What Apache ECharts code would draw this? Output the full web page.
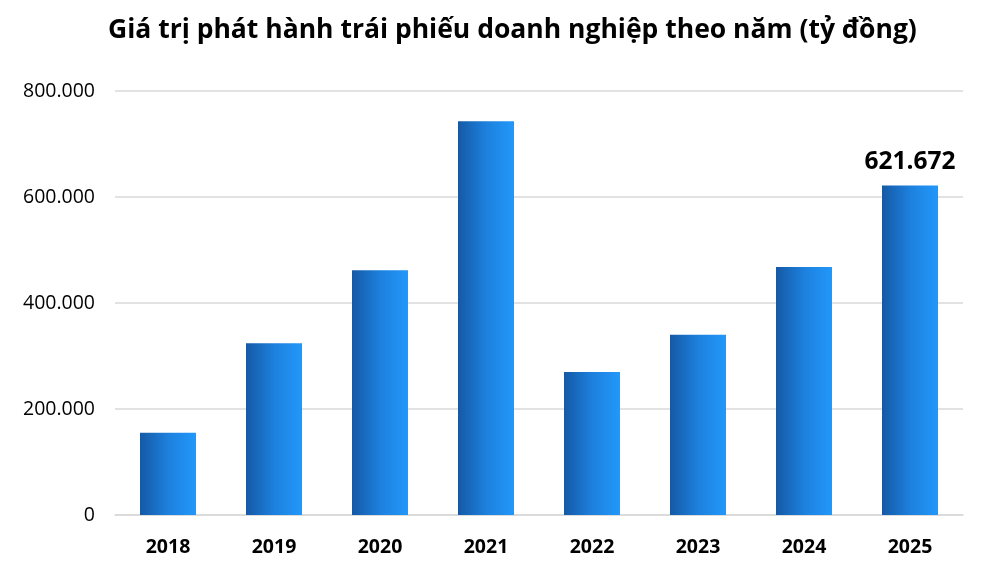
<!DOCTYPE html>
<html><head><meta charset="utf-8">
<script src="https://cdn.jsdelivr.net/npm/echarts@6/dist/echarts.min.js"></script>
<style>html,body{margin:0;padding:0;background:#fff}#c{width:997px;height:574px}</style>
</head><body><div id="c"></div>
<script>
const title = 'Giá trị phát hành trái phiếu doanh nghiệp theo năm (tỷ đồng)';
const categories = ['2018','2019','2020','2021','2022','2023','2024','2025'];
const values = [155000, 324000, 462000, 743000, 270000, 340000, 468000, 621672];
const labeledIndex = [7];

function fmt(v){ return String(Math.round(v)).replace(/\B(?=(\d{3})+(?!\d))/g,'.'); }

const chart = echarts.init(document.getElementById('c'));
chart.setOption({
  backgroundColor:'#fff',
  animation:false,
  title:{text:title,left:103,top:12,textStyle:{fontFamily:'Open Sans',fontWeight:'bold',fontSize:26.5,color:'#000'}},
  grid:{left:115,right:34,top:91,bottom:59},
  xAxis:{type:'category',data:categories,
    axisLine:{lineStyle:{color:'#d9d9d9',width:1.5}},axisTick:{show:false},
    axisLabel:{margin:22,fontFamily:'Open Sans',fontWeight:'bold',fontSize:19.5,color:'#000'}},
  yAxis:{type:'value',min:0,max:800000,interval:200000,
    axisLine:{show:false},axisTick:{show:false},
    splitLine:{lineStyle:{color:'#d9d9d9',width:1.5}},
    axisLabel:{margin:20,fontFamily:'Open Sans',fontSize:19.5,color:'#000',formatter:fmt}},
  series:[{type:'bar',barWidth:56,
    data:values.map((v,i)=>({value:v,label:{show:labeledIndex.includes(i)}})),
    itemStyle:{color:new echarts.graphic.LinearGradient(0,0,1,0,[{offset:0,color:'#1559A5'},{offset:0.5,color:'#1d80dd'},{offset:1,color:'#2298FA'}])},
    label:{position:'top',distance:11,formatter:p=>fmt(p.value),fontFamily:'Open Sans',fontWeight:'bold',fontSize:24.5,color:'#000'}
  }]
});
</script></body></html>
